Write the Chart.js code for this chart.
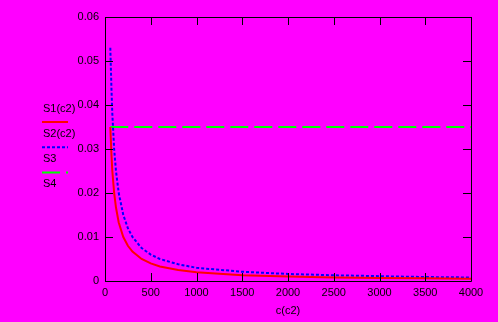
<!DOCTYPE html>
<html>
<head>
<meta charset="utf-8">
<script src="https://cdn.jsdelivr.net/npm/chart.js@4.4.0/dist/chart.umd.min.js"></script>
<style>
    body { margin: 0; background: #ff00ff; }
    canvas { display: block; }
</style>
</head>
<body>
<canvas id="chart" width="498" height="322"></canvas>
<script>
// values
var cValues = [58, 70, 80, 100, 120, 150, 200, 250, 300, 400, 500, 600, 800, 1000, 1500, 2000, 2500, 3000, 3500, 4000];
var s1Values = [0.035, 0.029, 0.025, 0.020, 0.0167, 0.0133, 0.010, 0.008, 0.0067, 0.005, 0.004, 0.0033, 0.0025, 0.002, 0.0013, 0.001, 0.0008, 0.0007, 0.0006, 0.0005];
var s2Values = [0.053, 0.044, 0.038, 0.030, 0.025, 0.020, 0.015, 0.012, 0.010, 0.0075, 0.006, 0.005, 0.0038, 0.003, 0.0021, 0.0016, 0.0013, 0.0011, 0.0009, 0.0008];
var s3C = [58, 4000];
var s3Values = [0.035, 0.035];
var legendLabels = ["S1(c2)", "S2(c2)", "S3", "S4"];
var xTitle = "c(c2)";

let toPoints = function (xs, ys) {
    var pts = [];
    for (let i = 0; i < xs.length; i++) {
        pts.push({ x: xs[i], y: ys[i] });
    }
    return pts;
}

// mathcad style frame: box with inward ticks, stacked legend on the left
let framePlugin = {
    id: 'frame',
    afterDatasetsDraw: function (chart) {
        let ctx = chart.ctx;
        let a = chart.chartArea;
        let xs = chart.scales.x;
        let ys = chart.scales.y;
        ctx.save();
        ctx.strokeStyle = '#000';
        ctx.lineWidth = 1;
        ctx.beginPath();
        ctx.rect(Math.round(a.left) + 0.5, Math.round(a.top) + 0.5, Math.round(a.right - a.left), Math.round(a.bottom - a.top));
        for (let t of xs.ticks) {
            let px = Math.round(xs.getPixelForValue(t.value)) + 0.5;
            ctx.moveTo(px, a.bottom);
            ctx.lineTo(px, a.bottom - 8);
            ctx.moveTo(px, a.top);
            ctx.lineTo(px, a.top + 8);
        }
        for (let t of ys.ticks) {
            let py = Math.round(ys.getPixelForValue(t.value)) + 0.5;
            ctx.moveTo(a.left, py);
            ctx.lineTo(a.left + 8, py);
            ctx.moveTo(a.right, py);
            ctx.lineTo(a.right - 8, py);
        }
        ctx.stroke();

        ctx.font = '11px "Liberation Sans", Arial, sans-serif';
        ctx.fillStyle = '#000';
        ctx.textBaseline = 'middle';
        ctx.textAlign = 'left';
        let ds = chart.data.datasets;
        for (let i = 0; i < legendLabels.length; i++) {
            let y = 108.5 + i * 25.3;
            ctx.fillText(legendLabels[i], 43, y);
            if (ds[i]) {
                ctx.beginPath();
                ctx.strokeStyle = ds[i].borderColor;
                ctx.lineWidth = ds[i].borderWidth;
                ctx.setLineDash(ds[i].borderDash || []);
                ctx.moveTo(42, y + 13.5);
                ctx.lineTo(68, y + 13.5);
                ctx.stroke();
            }
        }
        ctx.restore();
    }
};

let ctx = document.getElementById('chart');
new Chart(ctx, {
    type: 'line',
    data: {
        datasets: [{
            data: toPoints(cValues, s1Values),
            borderColor: '#ff0000',
            borderWidth: 2,
            pointRadius: 0,
            tension: 0
        }, {
            data: toPoints(cValues, s2Values),
            borderColor: '#0000ff',
            borderWidth: 2,
            borderDash: [3, 2],
            pointRadius: 0,
            tension: 0
        }, {
            data: toPoints(s3C, s3Values),
            borderColor: '#00ff00',
            borderWidth: 2,
            borderDash: [18, 6],
            pointRadius: 0,
            tension: 0
        }]
    },
    options: {
        responsive: false,
        animation: false,
        layout: { padding: { left: 0, top: 17, right: 27, bottom: 0 } },
        plugins: {
            legend: { display: false },
            tooltip: { enabled: false }
        },
        scales: {
            x: {
                type: 'linear',
                min: 0,
                max: 4000,
                border: { display: false },
                grid: { display: false, drawTicks: false },
                ticks: {
                    stepSize: 500,
                    padding: 5,
                    color: '#000',
                    maxRotation: 0,
                    font: { family: '"Liberation Sans", Arial, sans-serif', size: 11 },
                    callback: function (v) { return String(v); }
                },
                title: {
                    display: true,
                    text: xTitle,
                    color: '#000',
                    padding: { top: 0, bottom: 4 },
                    font: { family: '"Liberation Sans", Arial, sans-serif', size: 11 }
                },
                afterFit: function (scale) { scale.height = 41; }
            },
            y: {
                min: 0,
                max: 0.06,
                border: { display: false },
                grid: { display: false, drawTicks: false },
                ticks: {
                    stepSize: 0.01,
                    padding: 6,
                    color: '#000',
                    font: { family: '"Liberation Sans", Arial, sans-serif', size: 11 },
                    callback: function (v) { return v === 0 ? '0' : v.toFixed(2); }
                },
                afterFit: function (scale) { scale.width = 105; }
            }
        }
    },
    plugins: [framePlugin]
});
</script>
</body>
</html>
